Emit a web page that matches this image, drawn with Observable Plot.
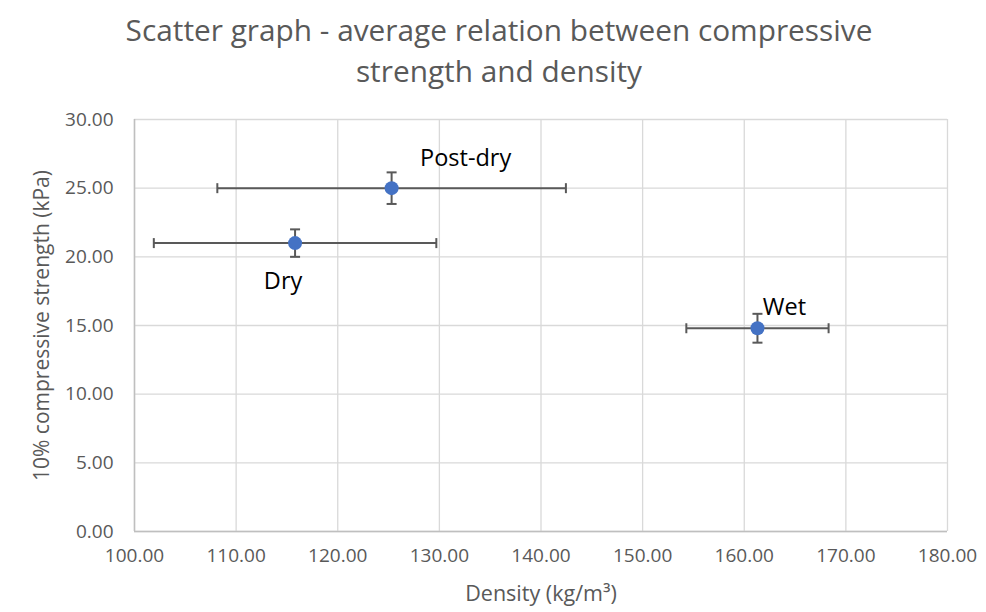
<!DOCTYPE html>
<html>
<head>
<meta charset="utf-8">
<script src="https://cdn.jsdelivr.net/npm/d3@7"></script>
<script src="https://cdn.jsdelivr.net/npm/@observablehq/plot@0.6"></script>
<style>
  html, body { margin: 0; padding: 0; background: #fff; }
  body { width: 986px; height: 612px; overflow: hidden; font-family: "Open Sans", sans-serif; }
  #title {
    box-sizing: border-box; width: 986px; height: 95px;
    padding-top: 9px; padding-left: 12px;
    text-align: center; color: #595959;
    font-size: 29.8px; line-height: 41px;
  }
  #chart svg { display: block; }
</style>
</head>
<body>
<div id="title">Scatter graph - average relation between compressive<br>strength and density</div>
<div id="chart"></div>
<script>
// Data
const labels = ["Dry", "Post-dry", "Wet"];
const density = [115.8, 125.3, 161.3];          // kg/m³ (mean)
const densityErr = [13.9, 17.15, 7.0];           // ± error
const strength = [21.0, 25.0, 14.8];             // kPa (mean)
const strengthErr = [1.0, 1.15, 1.05];           // ± error
const xTicks = [100, 110, 120, 130, 140, 150, 160, 170, 180];
const yTicks = [0, 5, 10, 15, 20, 25, 30];

const data = labels.map((name, i) => ({
  name, x: density[i], xe: densityErr[i], y: strength[i], ye: strengthErr[i]
}));

const vCap = { draw(ctx) { ctx.moveTo(0, -5); ctx.lineTo(0, 5); } };
const hCap = { draw(ctx) { ctx.moveTo(-5, 0); ctx.lineTo(5, 0); } };

const errColor = "#595959";
const byName = n => data.filter(d => d.name === n);

const chart = Plot.plot({
  width: 986,
  height: 517,
  marginLeft: 134,
  marginRight: 39,
  marginTop: 24,
  marginBottom: 81,
  style: { fontFamily: "Open Sans, sans-serif", fontSize: "19px", color: "#595959", background: "#fff" },
  x: { domain: [100, 180], ticks: xTicks, label: null },
  y: { domain: [0, 30], ticks: yTicks, label: null },
  marks: [
    Plot.gridX(xTicks, { stroke: "#d9d9d9", strokeOpacity: 1, strokeWidth: 1.3 }),
    Plot.gridY(yTicks, { stroke: "#d9d9d9", strokeOpacity: 1, strokeWidth: 1.3 }),
    Plot.ruleX([100], { stroke: "#bfbfbf", strokeWidth: 1.5 }),
    Plot.ruleY([0], { stroke: "#bfbfbf", strokeWidth: 1.5 }),
    Plot.axisX({ ticks: xTicks, tickSize: 0, tickPadding: 17, tickFormat: d => d.toFixed(2), fill: "#595959", label: null }),
    Plot.axisY({ ticks: yTicks, tickSize: 0, tickPadding: 21, tickFormat: d => d.toFixed(2), fill: "#595959", label: null }),
    // horizontal error bars
    Plot.link(data, { x1: d => d.x - d.xe, x2: d => d.x + d.xe, y1: "y", y2: "y", stroke: errColor, strokeWidth: 2 }),
    Plot.dot(data, { x: d => d.x - d.xe, y: "y", symbol: vCap, stroke: errColor, strokeWidth: 2, r: 5 }),
    Plot.dot(data, { x: d => d.x + d.xe, y: "y", symbol: vCap, stroke: errColor, strokeWidth: 2, r: 5 }),
    // vertical error bars
    Plot.link(data, { x1: "x", x2: "x", y1: d => d.y - d.ye, y2: d => d.y + d.ye, stroke: errColor, strokeWidth: 2 }),
    Plot.dot(data, { x: "x", y: d => d.y - d.ye, symbol: hCap, stroke: errColor, strokeWidth: 2, r: 5 }),
    Plot.dot(data, { x: "x", y: d => d.y + d.ye, symbol: hCap, stroke: errColor, strokeWidth: 2, r: 5 }),
    // points
    Plot.dot(data, { x: "x", y: "y", r: 7, fill: "#4472C4", stroke: "none" }),
    // data labels
    Plot.text(byName("Post-dry"), { x: "x", y: "y", text: "name", dx: 74, dy: -30, fill: "#000", fontSize: 23.5 }),
    Plot.text(byName("Dry"), { x: "x", y: "y", text: "name", dx: -12, dy: 38, fill: "#000", fontSize: 23.5 }),
    Plot.text(byName("Wet"), { x: "x", y: "y", text: "name", dx: 27, dy: -21, fill: "#000", fontSize: 23.5 }),
    // axis titles
    Plot.text(["Density (kg/m³)"], { frameAnchor: "bottom", dy: 63, fill: "#595959", fontSize: 21.5, lineAnchor: "middle", textAnchor: "middle" }),
    Plot.text(["10% compressive strength (kPa)"], { frameAnchor: "left", dx: -92, rotate: -90, fill: "#595959", fontSize: 21, lineAnchor: "middle", textAnchor: "middle" })
  ]
});
document.getElementById("chart").appendChild(chart);
</script>
</body>
</html>
